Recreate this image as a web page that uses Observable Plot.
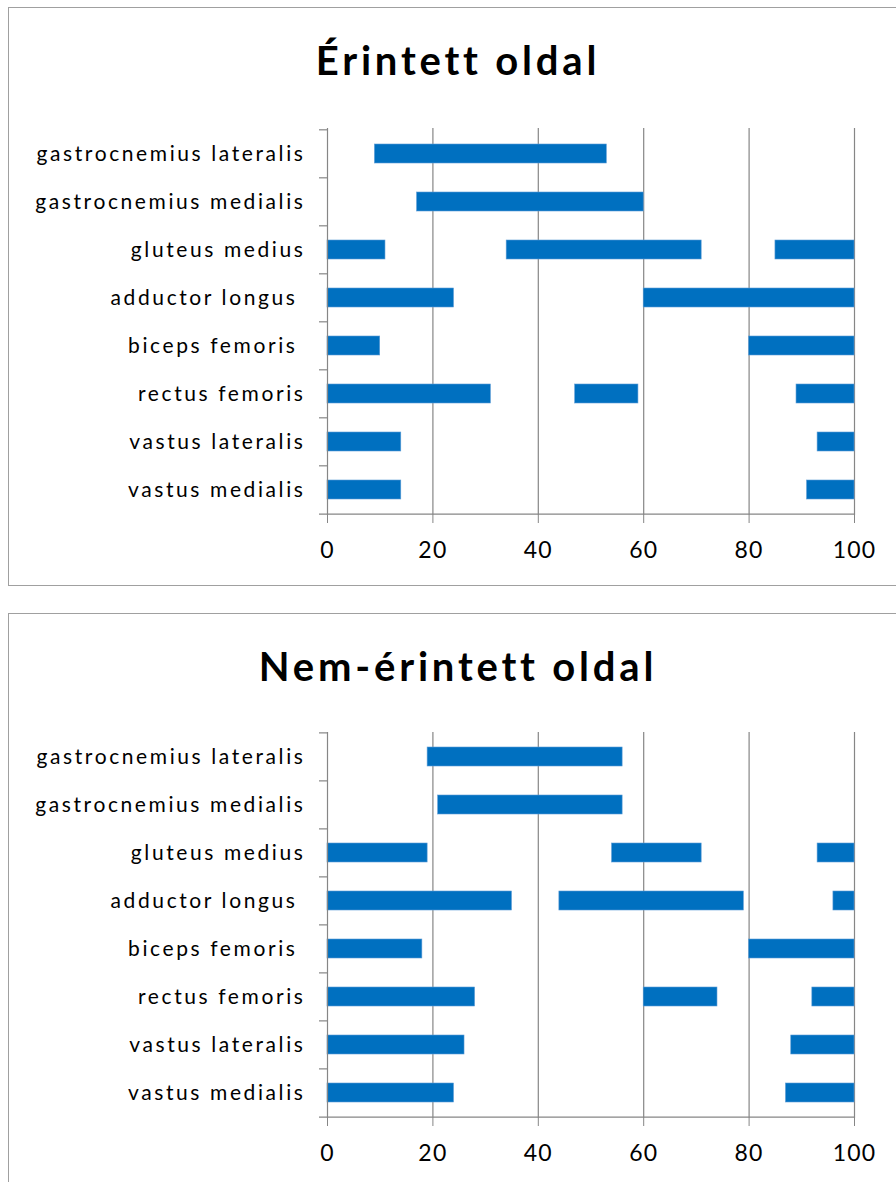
<!DOCTYPE html>
<html>
<head>
<meta charset="utf-8">
<script src="https://cdn.jsdelivr.net/npm/d3@7"></script>
<script src="https://cdn.jsdelivr.net/npm/@observablehq/plot@0.6"></script>
<style>
  html, body { margin: 0; padding: 0; background: #fff; width: 896px; height: 1182px; overflow: hidden; }
  .box { position: absolute; left: 8px; width: 900px; border: 1.5px solid #a0a0a0; box-sizing: border-box; }
  .title { position: absolute; left: 0; width: 916px; text-align: center; font-family: Lato, sans-serif; font-weight: bold; font-size: 40px; letter-spacing: 3.8px; color: #000; }
  .chart { position: absolute; left: 0; }
  svg text { white-space: pre; }
  svg g[aria-label="y-axis tick label"] text { letter-spacing: 2.6px; }
  svg g[aria-label="x-axis tick label"] text { letter-spacing: 1.2px; }
</style>
</head>
<body>
<div class="box" style="top:7px;height:579px;"></div>
<div class="box" style="top:613px;height:600px;"></div>
<div class="title" id="t1" style="top:36px;">Érintett oldal</div>
<div class="title" id="t2" style="top:642px;">Nem-érintett oldal</div>
<div class="chart" id="c1" style="top:100px;"></div>
<div class="chart" id="c2" style="top:704px;"></div>
<script>
const muscles = ["gastrocnemius lateralis", "gastrocnemius medialis", "gluteus medius", "adductor longus ", "biceps femoris ", "rectus femoris", "vastus lateralis", "vastus medialis"];
const xTicks = [0, 20, 40, 60, 80, 100];

// Érintett oldal (affected side): segments
const affectedMuscle = [0, 1, 2, 2, 2, 3, 3, 4, 4, 5, 5, 5, 6, 6, 7, 7];
const affectedStart  = [9, 17, 0, 34, 85, 0, 60, 0, 80, 0, 47, 89, 0, 93, 0, 91];
const affectedEnd    = [53, 60, 11, 71, 100, 24, 100, 10, 100, 31, 59, 100, 14, 100, 14, 100];

// Nem-érintett oldal (non-affected side): segments
const unaffectedMuscle = [0, 1, 2, 2, 2, 3, 3, 3, 4, 4, 5, 5, 5, 6, 6, 7, 7];
const unaffectedStart  = [19, 21, 0, 54, 93, 0, 44, 96, 0, 80, 0, 60, 92, 0, 88, 0, 87];
const unaffectedEnd    = [56, 56, 19, 71, 100, 35, 79, 100, 18, 100, 28, 74, 100, 26, 100, 24, 100];

const gray = "#868686";
const blue = "#0070C0";

function makeChart(mIdx, starts, ends, height, marginTop, marginBottom) {
  const data = mIdx.map((m, i) => ({muscle: muscles[m], start: starts[i], end: ends[i]}));
  const step = (height - marginTop - marginBottom) / muscles.length;
  return Plot.plot({
    width: 896,
    height,
    marginLeft: 327,
    marginRight: 42,
    marginTop,
    marginBottom,
    style: {fontFamily: "Lato, sans-serif", fontSize: "21px", color: "#000", background: "transparent", overflow: "visible"},
    x: {domain: [0, 100]},
    y: {domain: muscles, paddingInner: 0.6, paddingOuter: 0.3},
    marks: [
      Plot.gridX(xTicks.slice(1), {stroke: gray, strokeOpacity: 1, strokeWidth: 1.2}),
      Plot.barX(data, {x1: "start", x2: "end", y: "muscle", fill: blue, stroke: "#5b9bd5", strokeWidth: 0.6}),
      Plot.ruleX([0], {stroke: gray, strokeWidth: 1.2}),
      Plot.ruleY(muscles, {y: d => d, dy: -step / 2, x1: 0, x2: 0, insetLeft: -8, stroke: gray, strokeWidth: 1.2}),
      Plot.ruleY(muscles.slice(-1), {y: d => d, dy: step / 2, x1: 0, x2: 100, insetLeft: -8, stroke: gray, strokeWidth: 1.2}),
      Plot.axisX({ticks: xTicks, tickSize: 8, tickPadding: 18, stroke: gray, fill: "#000", fontSize: 23, label: null}),
      Plot.axisY({tickSize: 0, tickPadding: 22, fill: "#000", fontSize: 21, label: null})
    ]
  });
}

document.getElementById("c1").appendChild(makeChart(affectedMuscle, affectedStart, affectedEnd, 480, 28, 65));
document.getElementById("c2").appendChild(makeChart(unaffectedMuscle, unaffectedStart, unaffectedEnd, 480, 28, 66));
</script>
</body>
</html>
